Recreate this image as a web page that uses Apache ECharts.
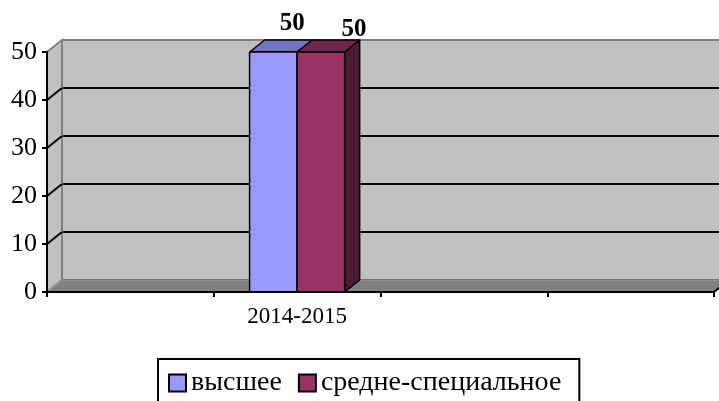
<!DOCTYPE html>
<html>
<head>
<meta charset="utf-8">
<script src="https://cdn.jsdelivr.net/npm/echarts@6/dist/echarts.min.js"></script>
<style>
html, body { margin: 0; padding: 0; background: #fff; }
#chart { width: 719px; height: 401px; }
</style>
</head>
<body>
<div id="chart"></div>
<script>
var categories = ['', '2014-2015', '', ''];
var seriesNames = ['высшее', 'средне-специальное'];
var higherValues = [null, 50, null, null];
var specialValues = [null, 50, null, null];
var yTicks = [0, 10, 20, 30, 40, 50];

// depth of the fake 3d box
var DX = 15, DY = 12;
var FONT = 'Liberation Serif';

function toPoints(values) {
	var out = [];
	for (var i = 0; i < values.length; i++) {
		if (values[i] != null) out.push([i, values[i]]);
	}
	return out;
}

function renderFrame(params, api) {
	var cs = params.coordSys;
	var left = cs.x, right = cs.x + cs.width, top = cs.y, bottom = cs.y + cs.height;
	var children = [];
	// side wall
	children.push({
		type: 'polygon',
		shape: { points: [[left, bottom], [left, top], [left + DX, top - DY], [left + DX, bottom - DY]] },
		style: { fill: '#c0c0c0', stroke: '#808080', lineWidth: 2 }
	});
	// slanted grid lines on the side wall
	for (var i = 0; i < yTicks.length; i++) {
		var v = yTicks[i];
		if (v == 0 || v == 50) continue;
		var y = api.coord([0, v])[1];
		children.push({
			type: 'line',
			shape: { x1: left, y1: y, x2: left + DX, y2: y - DY },
			style: { stroke: '#000', lineWidth: 2 }
		});
	}
	// top edge of the back wall
	children.push({
		type: 'line',
		shape: { x1: left + DX, y1: top - DY, x2: right + DX, y2: top - DY },
		style: { stroke: '#808080', lineWidth: 2 }
	});
	// floor
	children.push({
		type: 'polygon',
		shape: { points: [[left, bottom], [right, bottom], [right + DX, bottom - DY], [left + DX, bottom - DY]] },
		style: { fill: '#808080', stroke: '#969696', lineWidth: 1.5 }
	});
	children.push({
		type: 'line',
		shape: { x1: right, y1: bottom, x2: right + DX, y2: bottom - DY },
		style: { stroke: '#000', lineWidth: 2 }
	});
	return { type: 'group', children: children };
}

function barRenderer(idx, front, topColor, sideColor, labelDx, labelDy) {
	return function(params, api) {
		var cat = api.value(0), val = api.value(1);
		var catW = api.size([1, 0])[0];
		var bw = catW * 0.285;
		var base = api.coord([cat, 0]);
		var x0 = base[0] - bw + idx * bw;
		var x1 = x0 + bw;
		var yB = base[1];
		var yT = api.coord([cat, val])[1];
		var st = { stroke: '#000', lineWidth: 1.5, lineJoin: 'round' };
		return {
			type: 'group',
			children: [{
				type: 'polygon',
				shape: { points: [[x1, yT], [x1 + DX, yT - DY], [x1 + DX, yB - DY], [x1, yB]] },
				style: Object.assign({ fill: sideColor }, st)
			}, {
				type: 'polygon',
				shape: { points: [[x0, yT], [x1, yT], [x1 + DX, yT - DY], [x0 + DX, yT - DY]] },
				style: Object.assign({ fill: topColor }, st)
			}, {
				type: 'rect',
				shape: { x: x0, y: yT, width: bw, height: yB - yT },
				style: Object.assign({ fill: front }, st)
			}, {
				type: 'text',
				z2: 10,
				style: {
					text: String(val),
					x: (x0 + x1) / 2 + labelDx,
					y: yT + labelDy,
					align: 'center',
					verticalAlign: 'middle',
					fontFamily: FONT,
					fontWeight: 'bold',
					fontSize: 25,
					fill: '#000'
				}
			}]
		};
	};
}

var chart = echarts.init(document.getElementById('chart'));
var option = {
	animation: false,
	backgroundColor: '#fff',
	textStyle: { fontFamily: FONT },
	grid: [{
		left: 47 + DX, top: 52 - DY, width: 667, height: 240,
		show: true, backgroundColor: '#c0c0c0', borderWidth: 0
	}, {
		left: 47, top: 52, width: 667, height: 240
	}],
	legend: {
		data: seriesNames,
		left: 158,
		top: 359,
		icon: 'rect',
		itemWidth: 17,
		itemHeight: 17,
		itemGap: 16,
		padding: [10, 18, 10, 10],
		borderColor: '#000',
		borderWidth: 2,
		itemStyle: { borderColor: '#000', borderWidth: 2 },
		textStyle: { fontFamily: FONT, fontSize: 28, color: '#000' }
	},
	xAxis: [{
		gridIndex: 0, type: 'category', data: categories, show: false
	}, {
		gridIndex: 1,
		type: 'category',
		data: categories,
		z: 10,
		axisLine: { lineStyle: { color: '#000', width: 2 } },
		axisTick: { show: true, length: 5, lineStyle: { color: '#000', width: 2 } },
		axisLabel: { interval: 0, margin: 13, color: '#000', fontFamily: FONT, fontSize: 23 },
		splitLine: { show: false }
	}],
	yAxis: [{
		gridIndex: 0,
		type: 'value',
		min: 0, max: 50, interval: 10,
		axisLine: { show: false },
		axisTick: { show: false },
		axisLabel: { show: false },
		splitLine: { show: true, lineStyle: { color: '#000', width: 2 } }
	}, {
		gridIndex: 1,
		type: 'value',
		min: 0, max: 50, interval: 10,
		z: 10,
		axisLine: { show: true, lineStyle: { color: '#000', width: 2 } },
		axisTick: { show: true, length: 5, lineStyle: { color: '#000', width: 2 } },
		axisLabel: { margin: 10, color: '#000', fontFamily: FONT, fontSize: 26 },
		splitLine: { show: false }
	}],
	series: [{
		type: 'custom',
		name: 'frame',
		xAxisIndex: 1, yAxisIndex: 1,
		z: 2,
		silent: true,
		renderItem: renderFrame,
		data: [[0, 0]]
	}, {
		type: 'custom',
		name: seriesNames[0],
		xAxisIndex: 1, yAxisIndex: 1,
		z: 3,
		itemStyle: { color: '#9999ff' },
		renderItem: barRenderer(0, '#9999ff', '#7373c4', '#5c5ca8', 19, -28),
		data: toPoints(higherValues)
	}, {
		type: 'custom',
		name: seriesNames[1],
		xAxisIndex: 1, yAxisIndex: 1,
		z: 4,
		itemStyle: { color: '#993366' },
		renderItem: barRenderer(1, '#993366', '#70254a', '#4d1a33', 33, -22),
		data: toPoints(specialValues)
	}]
};
chart.setOption(option);
</script>
</body>
</html>
